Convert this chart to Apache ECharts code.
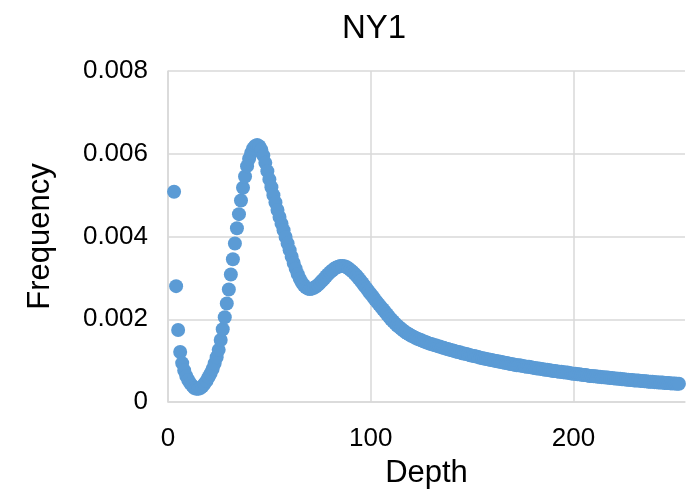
<!DOCTYPE html>
<html>
<head>
<meta charset="utf-8">
<script src="https://cdn.jsdelivr.net/npm/echarts@6/dist/echarts.min.js"></script>
<style>html,body{margin:0;padding:0;background:#fff}#c{width:700px;height:496px}</style>
</head>
<body>
<div id="c"></div>
<script>
const chartTitle = "NY1";
const xName = "Depth";
const yName = "Frequency";
const xTicks = [0, 100, 200];
const yTicks = [0, 0.002, 0.004, 0.006, 0.008];

const depth = [
  3,4,5,6,7,8,9,10,11,12,
  13,14,15,16,17,18,19,20,21,22,
  23,24,25,26,27,28,29,30,31,32,
  33,34,35,36,37,38,39,40,41,42,
  43,44,45,46,47,48,49,50,51,52,
  53,54,55,56,57,58,59,60,61,62,
  63,64,65,66,67,68,69,70,71,72,
  73,74,75,76,77,78,79,80,81,82,
  83,84,85,86,87,88,89,90,91,92,
  93,94,95,96,97,98,99,100,101,102,
  103,104,105,106,107,108,109,110,111,112,
  113,114,115,116,117,118,119,120,121,122,
  123,124,125,126,127,128,129,130,131,132,
  133,134,135,136,137,138,139,140,141,142,
  143,144,145,146,147,148,149,150,151,152,
  153,154,155,156,157,158,159,160,161,162,
  163,164,165,166,167,168,169,170,171,172,
  173,174,175,176,177,178,179,180,181,182,
  183,184,185,186,187,188,189,190,191,192,
  193,194,195,196,197,198,199,200,201,202,
  203,204,205,206,207,208,209,210,211,212,
  213,214,215,216,217,218,219,220,221,222,
  223,224,225,226,227,228,229,230,231,232,
  233,234,235,236,237,238,239,240,241,242,
  243,244,245,246,247,248,249,250,251,252
];

const frequency = [
  0.00508,0.00280,0.00174,0.00121,0.00094,0.00076,0.00063,0.00053,0.00045,0.00039,
  0.00034,0.00032,0.00032,0.00034,0.00038,0.00044,0.00051,0.00060,0.00069,0.00080,
  0.00093,0.00108,0.00126,0.00150,0.00176,0.00205,0.00238,0.00272,0.00308,0.00345,
  0.00383,0.00420,0.00454,0.00487,0.00518,0.00545,0.00570,0.00588,0.00602,0.00613,
  0.00619,0.00621,0.00618,0.00610,0.00596,0.00578,0.00558,0.00538,0.00519,0.00500,
  0.00482,0.00464,0.00447,0.00431,0.00415,0.00399,0.00383,0.00367,0.00351,0.00336,
  0.00322,0.00309,0.00298,0.00289,0.00282,0.00277,0.00274,0.00273,0.00274,0.00276,
  0.00279,0.00283,0.00288,0.00293,0.00298,0.00304,0.00309,0.00314,0.00318,0.00322,
  0.00325,0.00327,0.00329,0.00329,0.00328,0.00326,0.00323,0.00319,0.00315,0.00310,
  0.00305,0.00299,0.00293,0.00287,0.00280,0.00274,0.00267,0.00261,0.00255,0.00248,
  0.00242,0.00236,0.00230,0.00224,0.00218,0.00212,0.00206,0.00200,0.00195,0.00190,
  0.00185,0.00181,0.00177,0.00173,0.00169,0.00166,0.00163,0.00160,0.00158,0.00155,
  0.00153,0.00151,0.00149,0.00147,0.00145,0.00143,0.00141,0.00140,0.00138,0.00137,
  0.00135,0.00134,0.00132,0.00131,0.00129,0.00128,0.00126,0.00125,0.00124,0.00122,
  0.00121,0.00120,0.00118,0.00117,0.00116,0.00115,0.00113,0.00112,0.00111,0.00110,
  0.00109,0.00107,0.00106,0.00105,0.00104,0.00103,0.00102,0.00101,0.00100,0.00099,
  0.00098,0.00097,0.00096,0.00095,0.00094,0.00093,0.00092,0.00091,0.00090,0.00089,
  0.00089,0.00088,0.00087,0.00086,0.00085,0.00085,0.00084,0.00083,0.00082,0.00081,
  0.00081,0.00080,0.00079,0.00078,0.00078,0.00077,0.00076,0.00075,0.00075,0.00074,
  0.00073,0.00073,0.00072,0.00071,0.00071,0.00070,0.00069,0.00068,0.00068,0.00067,
  0.00067,0.00066,0.00065,0.00065,0.00064,0.00063,0.00063,0.00062,0.00062,0.00061,
  0.00061,0.00060,0.00060,0.00059,0.00059,0.00058,0.00058,0.00057,0.00057,0.00056,
  0.00056,0.00055,0.00055,0.00054,0.00054,0.00053,0.00053,0.00052,0.00052,0.00052,
  0.00051,0.00051,0.00050,0.00050,0.00049,0.00049,0.00049,0.00048,0.00048,0.00047,
  0.00047,0.00047,0.00046,0.00046,0.00046,0.00045,0.00045,0.00045,0.00044,0.00044
];

const points = depth.map((d, i) => [d, frequency[i]]);
const FONT = '"Liberation Sans", Arial, sans-serif';
const gridColor = '#d9d9d9';

const chart = echarts.init(document.getElementById('c'), null, {renderer: 'canvas'});
chart.setOption({
  backgroundColor: '#ffffff',
  animation: false,
  title: {
    text: chartTitle,
    left: 369,
    textAlign: 'center',
    top: 7,
    textStyle: {fontFamily: FONT, fontSize: 33, fontWeight: 'normal', color: '#000'}
  },
  grid: {left: 168, right: 15, top: 71, bottom: 94, containLabel: false},
  xAxis: {
    type: 'value',
    min: xTicks[0],
    max: 255,
    interval: xTicks[1] - xTicks[0],
    name: xName,
    nameLocation: 'middle',
    nameGap: 56,
    nameTextStyle: {fontFamily: FONT, fontSize: 31, color: '#000'},
    axisLine: {show: true, lineStyle: {color: gridColor, width: 1.5}},
    axisTick: {show: false},
    axisLabel: {fontFamily: FONT, fontSize: 26, color: '#000', margin: 24, showMaxLabel: false},
    splitLine: {show: true, showMaxLine: false, lineStyle: {color: gridColor, width: 1.5}}
  },
  yAxis: {
    type: 'value',
    min: yTicks[0],
    max: yTicks[yTicks.length - 1],
    interval: yTicks[1] - yTicks[0],
    name: yName,
    nameLocation: 'middle',
    nameGap: 112,
    nameTextStyle: {fontFamily: FONT, fontSize: 31, color: '#000'},
    axisLine: {show: true, lineStyle: {color: gridColor, width: 1.5}},
    axisTick: {show: false},
    axisLabel: {fontFamily: FONT, fontSize: 26, color: '#000', margin: 20,
      formatter: v => v === 0 ? '0' : v.toFixed(3)},
    splitLine: {show: true, lineStyle: {color: gridColor, width: 1.5}}
  },
  series: [{
    type: 'scatter',
    data: points,
    symbol: 'circle',
    symbolSize: 14,
    itemStyle: {color: '#5b9bd5', opacity: 1},
    clip: false
  }]
});
</script>
</body>
</html>
